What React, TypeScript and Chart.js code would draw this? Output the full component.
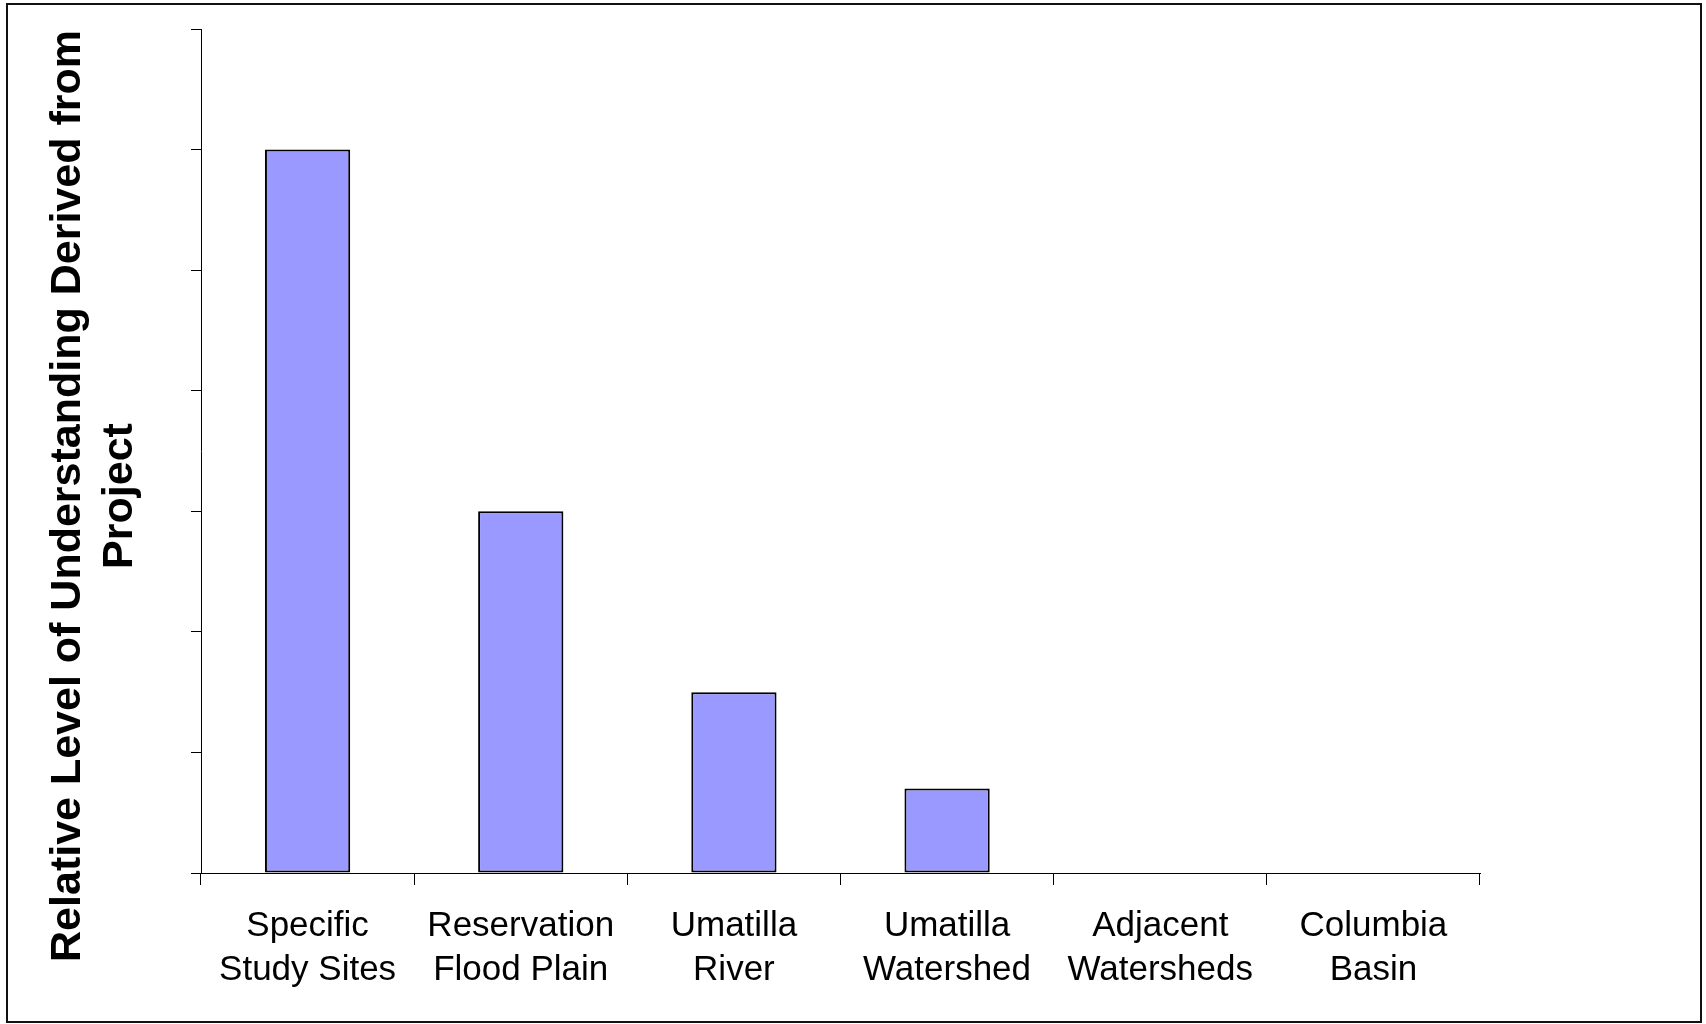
import React, { useEffect, useRef } from "react";
import { Chart, registerables } from "chart.js";

Chart.register(...registerables);

// Spatial scales examined, shown as two-line category labels
const categories: string[][] = [
  ["Specific", "Study Sites"],
  ["Reservation", "Flood Plain"],
  ["Umatilla", "River"],
  ["Umatilla", "Watershed"],
  ["Adjacent", "Watersheds"],
  ["Columbia", "Basin"],
];

// Relative level of understanding for each scale
const understanding: number[] = [6, 3, 1.5, 0.7, 0, 0];

// Y axis: unlabelled tick marks from 0 to 7
const yMin = 0;
const yMax = 7;
const yStep = 1;

const yAxisTitle: string[] = [
  "Relative Level of Understanding Derived from",
  "Project",
];

const FONT = "'Liberation Sans', Arial, Helvetica, sans-serif";

// Draws the rotated axis title and the frame around the whole chart
const titleAndFrame = {
  id: "titleAndFrame",
  afterDraw(chart: Chart) {
    const { ctx } = chart;
    ctx.save();
    ctx.strokeStyle = "#111";
    ctx.lineWidth = 2;
    ctx.strokeRect(7, 4, 1694, 1018);
    ctx.restore();

    ctx.save();
    ctx.fillStyle = "#000";
    ctx.font = `bold 43px ${FONT}`;
    ctx.textAlign = "center";
    ctx.textBaseline = "alphabetic";
    ctx.translate(80, 496);
    ctx.rotate(-Math.PI / 2);
    yAxisTitle.forEach((line, i) => ctx.fillText(line, 0, i * 52));
    ctx.restore();
  },
};

export default function App() {
  const canvasRef = useRef<HTMLCanvasElement | null>(null);

  useEffect(() => {
    if (!canvasRef.current) return;
    const chart = new Chart(canvasRef.current, {
      type: "bar",
      data: {
        labels: categories,
        datasets: [
          {
            data: understanding,
            backgroundColor: "#9999FF",
            borderColor: "#000000",
            borderWidth: 2,
            borderSkipped: false,
            barPercentage: 0.4,
            categoryPercentage: 1,
          },
        ],
      },
      options: {
        responsive: false,
        animation: false,
        layout: { padding: { left: 191, top: 29, right: 226, bottom: 0 } },
        plugins: {
          legend: { display: false },
          tooltip: { enabled: false },
          title: { display: false },
        },
        scales: {
          x: {
            offset: true,
            grid: {
              offset: true,
              drawOnChartArea: false,
              drawTicks: true,
              tickLength: 12,
              color: "#000",
              lineWidth: 1,
            },
            border: { display: true, color: "#000", width: 1 },
            ticks: {
              color: "#000",
              padding: 20,
              maxRotation: 0,
              autoSkip: false,
              font: { family: FONT, size: 35, lineHeight: 1.24 },
            },
            afterFit(scale: any) {
              scale.height = 151;
            },
          },
          y: {
            min: yMin,
            max: yMax,
            ticks: { display: false, stepSize: yStep },
            grid: {
              drawOnChartArea: false,
              drawTicks: true,
              tickLength: 10,
              color: "#000",
              lineWidth: 1,
            },
            border: { display: true, color: "#000", width: 1 },
            afterFit(scale: any) {
              scale.width = 10;
            },
          },
        },
      },
      plugins: [titleAndFrame],
    });
    return () => chart.destroy();
  }, []);

  return (
    <div
      style={{
        position: "absolute",
        left: 0,
        top: 0,
        width: 1706,
        height: 1024,
        background: "#fff",
      }}
    >
      <canvas ref={canvasRef} width={1706} height={1024} />
    </div>
  );
}
